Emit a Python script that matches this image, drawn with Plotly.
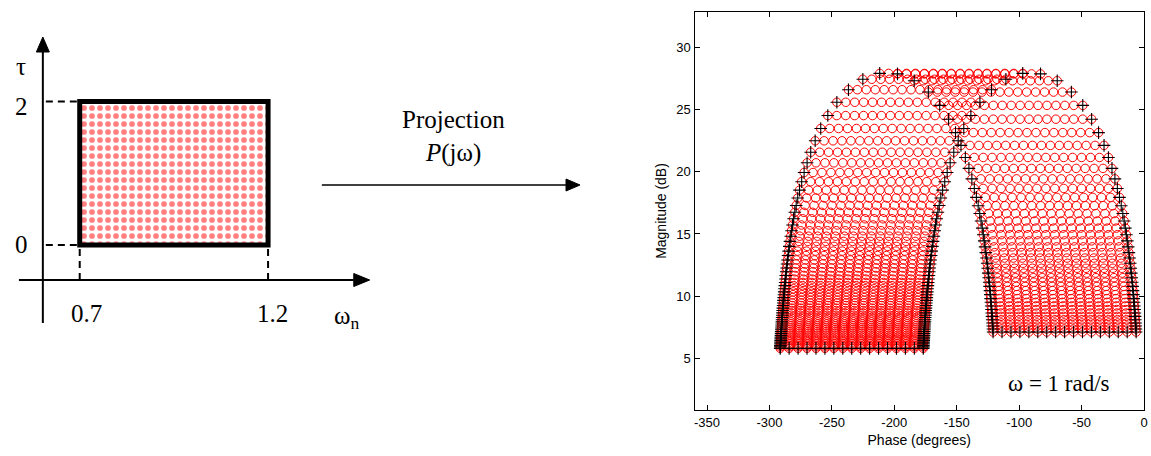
import plotly.graph_objects as go

# ---------------- data ----------------
# left diagram: uncertain parameter box
wn_bounds = [0.7, 1.2]
tau_bounds = [0, 2]
wn_tick_labels = ["0.7", "1.2"]
tau_tick_labels = ["0", "2"]

# right plot: template rows (one row per wn sample), magnitude and phase at tau = 0
row_mag_db = [
    5.80, 5.92, 6.04, 6.17, 6.30, 6.43, 6.56, 6.70, 6.84, 6.99,
    7.14, 7.29, 7.44, 7.60, 7.76, 7.93, 8.10, 8.28, 8.46, 8.65,
    8.84, 9.03, 9.24, 9.44, 9.66, 9.88, 10.11, 10.34, 10.59, 10.84,
    11.10, 11.37, 11.66, 11.96, 12.26, 12.58, 12.91, 13.26, 13.62, 14.00,
    14.40, 14.82, 15.26, 15.72, 16.22, 16.74, 17.29, 17.89, 18.52, 19.20,
    19.94, 20.72, 21.57, 22.49, 23.48, 24.52, 25.59, 26.60, 27.44, 27.91,
    27.87, 27.32, 26.41, 25.34, 24.23, 23.15, 22.12, 21.15, 20.27, 19.43,
    18.66, 17.94, 17.27, 16.64, 16.04, 15.47, 14.94, 14.44, 13.96, 13.50,
    13.06, 12.64, 12.24, 11.85, 11.48, 11.12, 10.78, 10.44, 10.12, 9.80,
    9.50, 9.21, 8.92, 8.64, 8.37, 8.10, 7.84, 7.59, 7.35, 7.11,
]
row_phase0_deg = [
    -176.82, -176.75, -176.68, -176.61, -176.54, -176.46, -176.38, -176.30, -176.21, -176.12,
    -176.03, -175.93, -175.83, -175.72, -175.61, -175.50, -175.38, -175.26, -175.13, -174.99,
    -174.85, -174.70, -174.53, -174.36, -174.19, -174.00, -173.81, -173.60, -173.37, -173.13,
    -172.88, -172.61, -172.32, -172.01, -171.68, -171.32, -170.93, -170.50, -170.04, -169.53,
    -168.98, -168.36, -167.68, -166.93, -166.08, -165.11, -164.02, -162.77, -161.32, -159.62,
    -157.67, -155.28, -152.38, -148.82, -144.36, -138.69, -131.44, -122.17, -110.63, -97.13,
    -82.88, -69.52, -58.16, -49.06, -41.95, -36.40, -32.02, -28.51, -25.66, -23.31,
    -21.34, -19.67, -18.25, -17.01, -15.93, -14.99, -14.15, -13.40, -12.72, -12.12,
    -11.57, -11.06, -10.61, -10.19, -9.80, -9.44, -9.11, -8.80, -8.51, -8.25,
    -7.99, -7.76, -7.54, -7.33, -7.13, -6.95, -6.77, -6.61, -6.45, -6.30,
]
# phase lag added by each delay sample (tau = 0 ... 2 s at omega = 1 rad/s)
tau_delay_deg = [0, 7.16, 14.32, 21.49, 28.65, 35.81, 42.97, 50.13, 57.30,
                 64.46, 71.62, 78.78, 85.94, 93.11, 100.27, 107.43, 114.59]

x_ticks = [-350, -300, -250, -200, -150, -100, -50, 0]
y_ticks = [5, 10, 15, 20, 25, 30]

# ---------------- build marks ----------------
circ_x, circ_y = [], []
for m, p in zip(row_mag_db, row_phase0_deg):
    for d in tau_delay_deg:
        circ_x.append(p - d)
        circ_y.append(m)

bnd_x, bnd_y = [], []
last = len(row_mag_db) - 1
for i, (m, p) in enumerate(zip(row_mag_db, row_phase0_deg)):
    delays = tau_delay_deg if i in (0, last) else [tau_delay_deg[0], tau_delay_deg[-1]]
    for d in delays:
        bnd_x.append(p - d)
        bnd_y.append(m)

W, H = 1151, 456
SERIF = "Liberation Serif"
SANS = "Liberation Sans"

def px(x, y):
    return x / W, 1 - y / H

fig = go.Figure()

# right plot
fig.add_trace(go.Scatter(
    x=circ_x, y=circ_y, mode="markers", xaxis="x", yaxis="y",
    marker=dict(symbol="circle-open", size=8.5, color="red", line=dict(width=1, color="red")),
    hoverinfo="skip", showlegend=False))
fig.add_trace(go.Scatter(
    x=bnd_x, y=bnd_y, mode="markers", xaxis="x", yaxis="y",
    marker=dict(symbol="cross-thin-open", size=9, color="black", line=dict(width=1.1, color="black")),
    hoverinfo="skip", showlegend=False))

# left diagram: the parameter box
bx = [wn_bounds[0], wn_bounds[1], wn_bounds[1], wn_bounds[0], wn_bounds[0]]
by = [tau_bounds[0], tau_bounds[0], tau_bounds[1], tau_bounds[1], tau_bounds[0]]
fig.add_trace(go.Scatter(
    x=bx, y=by, mode="lines", xaxis="x2", yaxis="y2", fill="toself",
    fillcolor="white", line=dict(width=0, color="rgba(0,0,0,0)"),
    fillpattern=dict(shape=".", fgcolor="#ff0000", bgcolor="white", size=8, solidity=0.4),
    hoverinfo="skip", showlegend=False))

# axis2 geometry (left diagram) : wn -> px x, tau -> px y
x2_range = [0.7 - 80 / 378, 0.7 + (575.5 - 80) / 378]
y2_range = [-(456 - 245) / 71.75, 245 / 71.75]
wn_axis = 0.48836 + 43 / 378      # position of vertical axis
tau_axis = (245 - 280) / 71.75    # position of horizontal axis

shapes = []
# box border
shapes.append(dict(type="rect", xref="x2", yref="y2", x0=wn_bounds[0], x1=wn_bounds[1],
                   y0=tau_bounds[0], y1=tau_bounds[1], line=dict(color="black", width=5)))
# vertical axis + arrow
v_top_tip = (245 - 37) / 71.75
v_base = (245 - 52) / 71.75
shapes.append(dict(type="line", xref="x2", yref="y2", x0=wn_axis, x1=wn_axis,
                   y0=(245 - 323) / 71.75, y1=v_base, line=dict(color="black", width=2)))
hw = 6.5 / 378
shapes.append(dict(type="path", xref="x2", yref="y2",
                   path=f"M{wn_axis},{v_top_tip} L{wn_axis-hw},{v_base} L{wn_axis+hw},{v_base} Z",
                   fillcolor="black", line=dict(color="black", width=1)))
# horizontal axis + arrow
h_left = 0.48836 + 19 / 378
h_tip = 0.48836 + 371 / 378
h_base = 0.48836 + 355 / 378
shapes.append(dict(type="line", xref="x2", yref="y2", x0=h_left, x1=h_base,
                   y0=tau_axis, y1=tau_axis, line=dict(color="black", width=2)))
hh = 6.5 / 71.75
shapes.append(dict(type="path", xref="x2", yref="y2",
                   path=f"M{h_tip},{tau_axis} L{h_base},{tau_axis-hh} L{h_base},{tau_axis+hh} Z",
                   fillcolor="black", line=dict(color="black", width=1)))
# dashed guide lines
dash = "7px,5px"
for t in tau_bounds:
    shapes.append(dict(type="line", xref="x2", yref="y2", x0=wn_axis + 3 / 378, x1=wn_bounds[0],
                       y0=t, y1=t, line=dict(color="black", width=2, dash=dash)))
for w in wn_bounds:
    shapes.append(dict(type="line", xref="x2", yref="y2", x0=w, x1=w,
                       y0=tau_bounds[0] - 4 / 71.75, y1=tau_axis, line=dict(color="black", width=2, dash=dash)))
# projection arrow
ax0, ay0 = px(323, 185)
ax1, _ = px(568, 185)
atip, _ = px(582, 185)
_, aup = px(0, 179)
_, adn = px(0, 191)
shapes.append(dict(type="line", xref="paper", yref="paper", x0=ax0, x1=ax1, y0=ay0, y1=ay0,
                   line=dict(color="black", width=1.5)))
shapes.append(dict(type="path", xref="paper", yref="paper",
                   path=f"M{atip},{ay0} L{ax1},{aup} L{ax1},{adn} Z",
                   fillcolor="black", line=dict(color="black", width=1)))

serif_font = dict(family=SERIF, size=25, color="black")
annotations = []
# left diagram labels
for w, lab, xs in zip(wn_bounds, wn_tick_labels, [7, 4]):
    annotations.append(dict(xref="x2", yref="y2", x=w, y=(245 - 313) / 71.75, text=lab,
                            showarrow=False, xshift=xs, xanchor="center", yanchor="middle",
                            font=serif_font))
for t, lab, ys in zip(tau_bounds, tau_tick_labels, [1, -5]):
    annotations.append(dict(xref="x2", yref="y2", x=0.48836 + 22 / 378, y=t, text=lab,
                            showarrow=False, yshift=ys, xanchor="center", yanchor="middle",
                            font=serif_font))
annotations.append(dict(xref="x2", yref="y2", x=0.48836 + 21 / 378, y=(245 - 66) / 71.75, text="τ",
                        showarrow=False, xanchor="center", yanchor="middle", font=serif_font))
annotations.append(dict(xref="x2", yref="y2", x=0.48836 + 348 / 378, y=(245 - 317) / 71.75,
                        text="ω<sub>n</sub>", showarrow=False, xanchor="center", yanchor="middle",
                        font=serif_font))
# projection text
tx, ty = px(455, 120)
annotations.append(dict(xref="paper", yref="paper", x=tx, y=ty, text="Projection", showarrow=False,
                        xanchor="center", yanchor="middle", font=serif_font))
tx, ty = px(455, 153)
annotations.append(dict(xref="paper", yref="paper", x=tx, y=ty, text="<i>P</i>(jω)", showarrow=False,
                        xanchor="center", yanchor="middle", font=serif_font))
# frequency note inside the plot
annotations.append(dict(xref="x", yref="y", x=-68, y=3.0, text="ω = 1 rad/s", showarrow=False,
                        xanchor="center", yanchor="middle",
                        font=dict(family=SERIF, size=23, color="black")))

fig.update_layout(
    width=W, height=H, margin=dict(l=0, r=0, t=0, b=0),
    paper_bgcolor="white", plot_bgcolor="white", showlegend=False,
    shapes=shapes, annotations=annotations,
    xaxis=dict(domain=[697 / W, 1148 / W], range=[-360, 0], tickvals=x_ticks,
               ticktext=[str(v) for v in x_ticks], ticks="inside", ticklen=5, tickwidth=1,
               tickcolor="black", mirror="ticks", showline=True, linecolor="black", linewidth=1.3,
               showgrid=False, zeroline=False, anchor="y", ticklabeloverflow="allow",
               tickfont=dict(family=SANS, size=13, color="black"),
               title=dict(text="Phase (degrees)", font=dict(family=SANS, size=14, color="black"), standoff=6)),
    yaxis=dict(domain=[46 / H, 444 / H], range=[0.84, 32.85], tickvals=y_ticks,
               ticks="inside", ticklen=5, tickwidth=1, tickcolor="black", mirror="ticks",
               showline=True, linecolor="black", linewidth=1.3, showgrid=False, zeroline=False,
               anchor="x", tickfont=dict(family=SANS, size=13, color="black"),
               title=dict(text="Magnitude (dB)", font=dict(family=SANS, size=14, color="black"), standoff=6)),
    xaxis2=dict(domain=[0, 0.5], range=x2_range, visible=False, anchor="y2", fixedrange=True),
    yaxis2=dict(domain=[0, 1], range=y2_range, visible=False, anchor="x2", fixedrange=True),
)

fig.write_html("out.html")
